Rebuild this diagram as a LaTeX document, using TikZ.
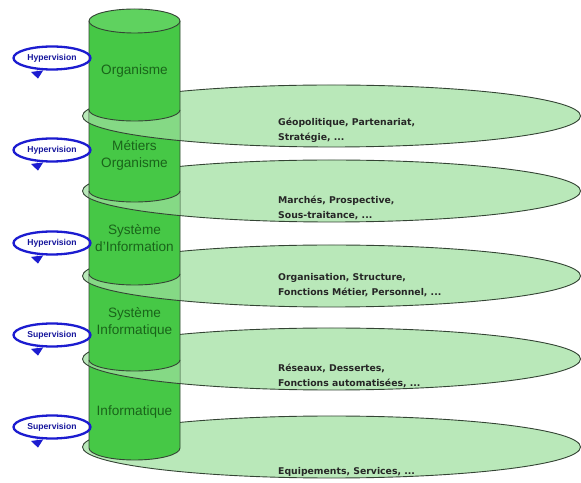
\documentclass[tikz,border=0pt]{standalone}
\usepackage{fontspec}
\setmainfont{Liberation Sans}
\newfontfamily\discfont{DejaVu Sans}
\usetikzlibrary{arrows.meta}
\usetikzlibrary{shapes.geometric}
\definecolor{cylgreen}{HTML}{46C846}
\definecolor{cyltop}{HTML}{5FD25F}
\definecolor{discgreen}{HTML}{B9E8B9}
\definecolor{rimgray}{HTML}{344434}
\definecolor{loopblue}{HTML}{1C1CD0}
\definecolor{labelgreen}{HTML}{1A641A}

\begin{document}
\begin{tikzpicture}[x=1pt, y=1pt,
    disc/.style = {fill=discgreen, draw=rimgray, line width=0.9pt},
    cylside/.style = {draw=rimgray, line width=0.9pt},
    loopnode/.style = {ellipse, draw=loopblue, line width=2.3pt, minimum width=77pt, minimum height=23pt, inner sep=0pt,
        text=loopblue!75!black, font=\bfseries\fontsize{8.6}{9}\selectfont},
    looptip/.style = {loopblue, line width=1pt, -{Triangle[width=12pt,length=7.5pt]}},
    layer/.style = {text=labelgreen, align=center, font=\fontsize{13.6}{17}\selectfont},
    fieldtext/.style = {anchor=west, align=left, inner sep=0pt, text=black!85,
        font=\discfont\bfseries\fontsize{9.3}{15}\selectfont}]
    \useasboundingbox (0,0) rectangle (581,482);

    \path[disc] (331.5,366) ellipse [x radius=249, y radius=31];
    \path[disc] (331.5,291) ellipse [x radius=249, y radius=31];
    \path[disc] (331.5,206) ellipse [x radius=249, y radius=31];
    \path[disc] (331.5,123) ellipse [x radius=249, y radius=31];
    \path[disc] (331.5,35) ellipse [x radius=249, y radius=31];

    \fill[cylgreen] (89,461) -- (89,34) arc [start angle=180, end angle=360, x radius=45.5, y radius=12] -- (180,461) -- cycle;
    \draw[cylside] (89,461) -- (89,34) arc [start angle=180, end angle=360, x radius=45.5, y radius=12] -- (180,461);
    \filldraw[cylside, fill=cyltop] (134.5,461) ellipse [x radius=45.5, y radius=12];

    \begin{scope}
        \clip (89,372) arc [start angle=180, end angle=360, x radius=45.5, y radius=11] -- (180,320) -- (89,320) -- cycle;
        \path[disc, fill opacity=0.55] (331.5,366) ellipse [x radius=249, y radius=31];
    \end{scope}
    \begin{scope}
        \clip (89,291) arc [start angle=180, end angle=360, x radius=45.5, y radius=11] -- (180,240) -- (89,240) -- cycle;
        \path[disc, fill opacity=0.55] (331.5,291) ellipse [x radius=249, y radius=31];
    \end{scope}
    \begin{scope}
        \clip (89,208) arc [start angle=180, end angle=360, x radius=45.5, y radius=11] -- (180,160) -- (89,160) -- cycle;
        \path[disc, fill opacity=0.55] (331.5,206) ellipse [x radius=249, y radius=31];
    \end{scope}
    \begin{scope}
        \clip (89,122) arc [start angle=180, end angle=360, x radius=45.5, y radius=11] -- (180,75) -- (89,75) -- cycle;
        \path[disc, fill opacity=0.55] (331.5,123) ellipse [x radius=249, y radius=31];
    \end{scope}

    \draw[cylside] (89,372) arc [start angle=180, end angle=360, x radius=45.5, y radius=11];
    \draw[cylside] (89,291) arc [start angle=180, end angle=360, x radius=45.5, y radius=11];
    \draw[cylside] (89,208) arc [start angle=180, end angle=360, x radius=45.5, y radius=11];
    \draw[cylside] (89,122) arc [start angle=180, end angle=360, x radius=45.5, y radius=11];

    \node[layer] (organisme) at (134.5,411) {Organisme};
    \node[layer] (metiers) at (134.5,327) {Métiers\\Organisme};
    \node[layer] (sysinfo) at (134.5,244) {Système\\d'Information};
    \node[layer] (sysinfq) at (134.5,160) {Système\\Informatique};
    \node[layer] (informatique) at (134.5,70) {Informatique};

    \node[loopnode] (hyp1) at (52,424) {Hypervision};
    \node[loopnode] (hyp2) at (52,332) {Hypervision};
    \node[loopnode] (hyp3) at (52,239) {Hypervision};
    \node[loopnode] (sup1) at (52,147) {Supervision};
    \node[loopnode] (sup2) at (52,55) {Supervision};
    \draw[looptip] ([xshift=-15pt]hyp1.south) -- ++(1,-8);
    \draw[looptip] ([xshift=-15pt]hyp2.south) -- ++(1,-8);
    \draw[looptip] ([xshift=-15pt]hyp3.south) -- ++(1,-8);
    \draw[looptip] ([xshift=-15pt]sup1.south) -- ++(1,-8);
    \draw[looptip] ([xshift=-15pt]sup2.south) -- ++(1,-8);

    \node[fieldtext] (geo) at (278,351.5) {Géopolitique, Partenariat,\\Stratégie, ...};
    \node[fieldtext] (marches) at (278,274.5) {Marchés, Prospective,\\Sous-traitance, ...};
    \node[fieldtext] (organisation) at (278,197) {Organisation, Structure,\\Fonctions Métier, Personnel, ...};
    \node[fieldtext] (reseaux) at (278,106.5) {Réseaux, Dessertes,\\Fonctions automatisées, ...};
    \node[fieldtext] (equipements) at (278,10) {Equipements, Services, ...};
\end{tikzpicture}
\end{document}
